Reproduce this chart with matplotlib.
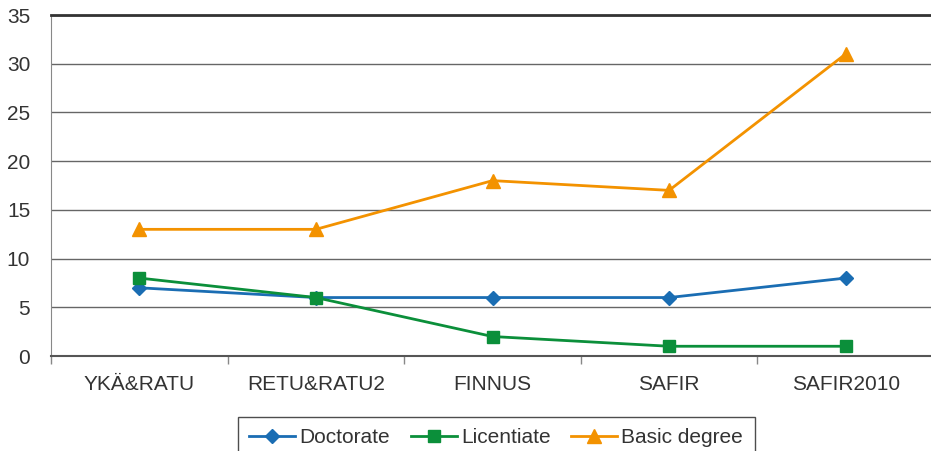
import matplotlib
matplotlib.use("Agg")
import matplotlib.pyplot as plt
from matplotlib.ticker import FixedLocator, NullFormatter

categories = ["YKÄ&RATU", "RETU&RATU2", "FINNUS", "SAFIR", "SAFIR2010"]
doctorate = [7, 6, 6, 6, 8]
licentiate = [8, 6, 2, 1, 1]
basic_degree = [13, 13, 18, 17, 31]
y_ticks = [0, 5, 10, 15, 20, 25, 30, 35]

plt.rcParams['font.family'] = ['Liberation Sans', 'DejaVu Sans']
fig = plt.figure(figsize=(9.31, 4.51), dpi=100)
W, H = 931, 451
ax = fig.add_axes([51/W, (H-356)/H, (934-51)/W, (356-15)/H])

x = list(range(len(categories)))
ax.plot(x, doctorate, color="#1a6db3", lw=2, marker="D", ms=7, label="Doctorate", zorder=3)
ax.plot(x, licentiate, color="#0b8f3a", lw=2, marker="s", ms=8, label="Licentiate", zorder=3)
ax.plot(x, basic_degree, color="#f39200", lw=2, marker="^", ms=10, label="Basic degree", zorder=3)

ax.set_xlim(-0.5, len(categories) - 0.5)
ax.set_ylim(0, 35)
ax.set_yticks(y_ticks)
ax.yaxis.grid(True, color="#666666", lw=1)
ax.set_axisbelow(True)
ax.tick_params(axis='y', length=0, pad=15, labelsize=15, labelcolor="#333333")
ax.set_xticks(x)
ax.set_xticklabels(categories)
ax.tick_params(axis='x', length=0, pad=14, labelsize=15, labelcolor="#333333")
ax.xaxis.set_minor_locator(FixedLocator([i - 0.5 for i in range(len(categories) + 1)]))
ax.xaxis.set_minor_formatter(NullFormatter())
ax.tick_params(axis='x', which='minor', length=6, color="#888888", width=1)

for s in ["right"]:
    ax.spines[s].set_visible(False)
ax.spines["top"].set_color("#333333")
ax.spines["top"].set_linewidth(2)
ax.spines["left"].set_color("#888888")
ax.spines["bottom"].set_color("#555555")
ax.spines["bottom"].set_linewidth(1.5)

leg = ax.legend(loc="upper left", bbox_to_anchor=((238-51)/(934-51), -(417-356)/(356-15)),
                borderaxespad=0,
                ncol=3, frameon=True, fancybox=False, edgecolor="#222222",
                fontsize=15, handlelength=2.2, columnspacing=1.0, handletextpad=0.2,
                borderpad=0.55, labelcolor="#333333")
leg.get_frame().set_linewidth(1)

fig.savefig("out.png", dpi=100)
